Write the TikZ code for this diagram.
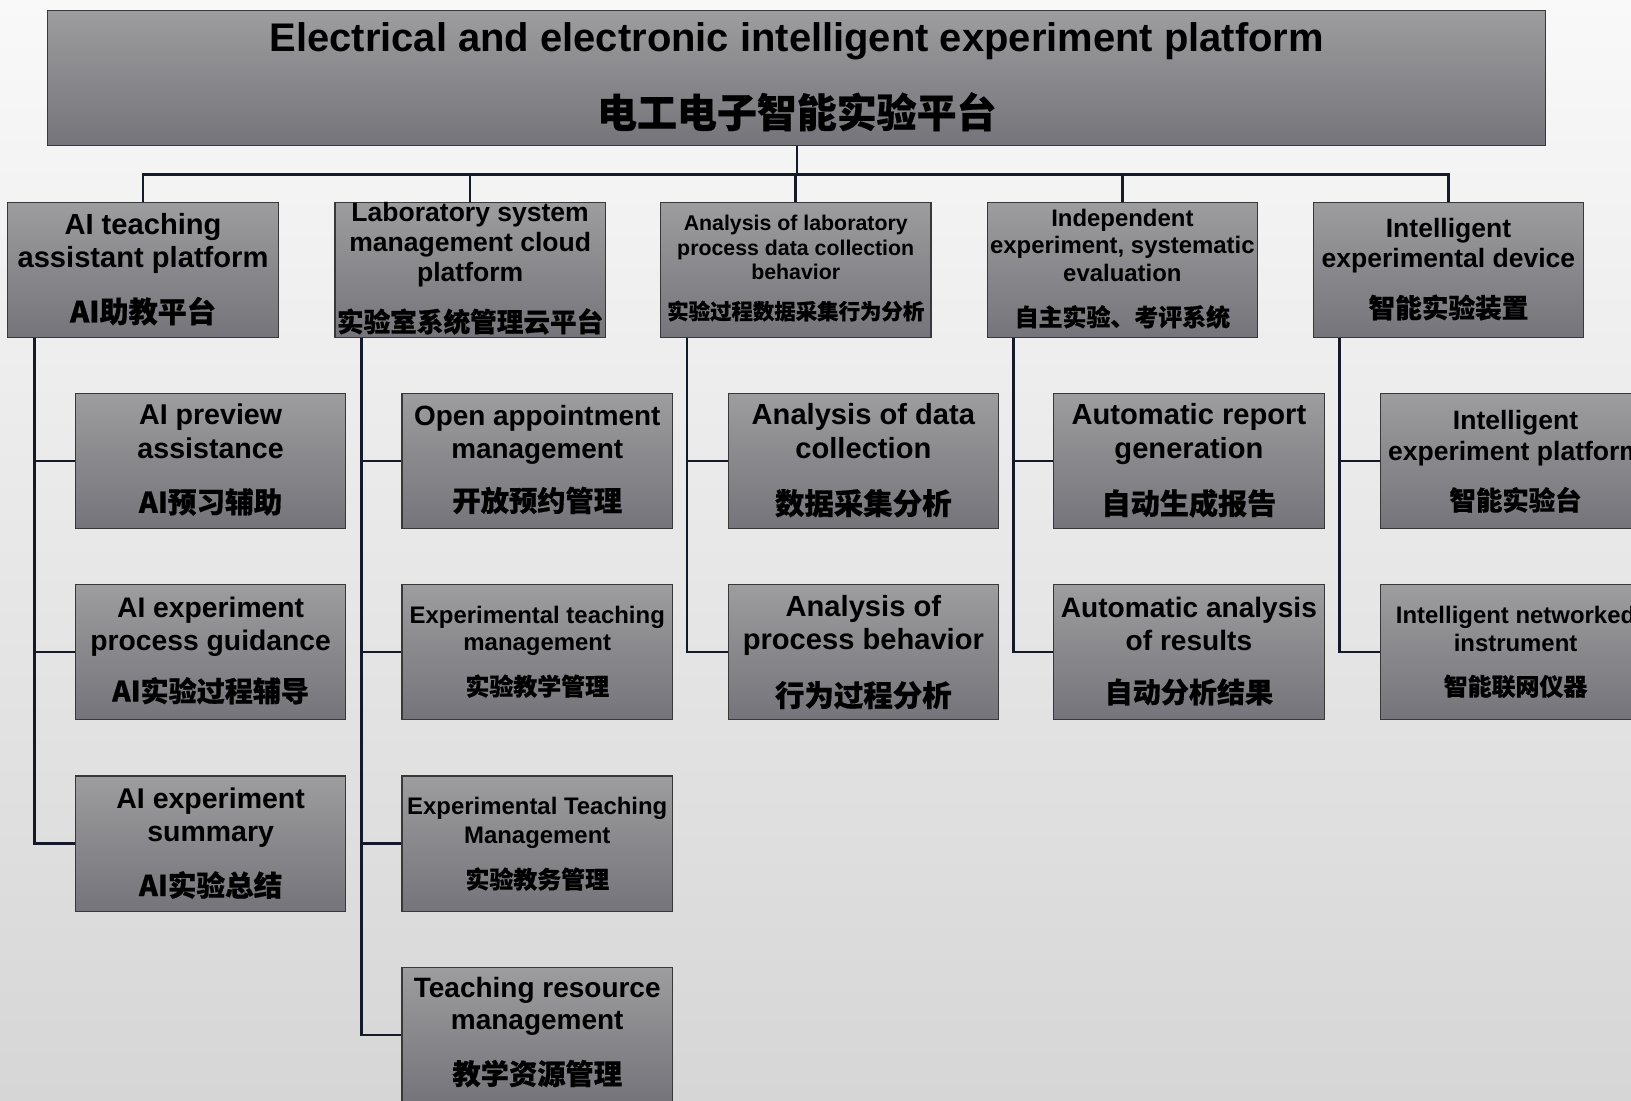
\documentclass[tikz,border=0pt]{standalone}
\usepackage{fontspec}
\setmainfont{Liberation Sans}
\newfontfamily\cjk{Noto Sans CJK SC}[BoldFeatures={FakeBold=0.5}]
\usetikzlibrary{calc}

\definecolor{bgtop}{HTML}{F9F9F9}
\definecolor{bgbot}{HTML}{D6D6D6}
\definecolor{boxtop}{HTML}{9D9D9F}
\definecolor{boxbot}{HTML}{74747A}
\definecolor{boxline}{HTML}{383838}
\definecolor{linkcol}{HTML}{141A2A}

% one centred text line; #1 = distance from the previous baseline (or the box top)
\newcommand\enrow[3]{\hbox to 0pt{\hss\vrule height #1pt depth 0pt width 0pt\fontsize{#2}{#2}\selectfont\bfseries\smash{#3}\hss}}
\newcommand\cnrow[3]{\hbox to 0pt{\hss\vrule height #1pt depth 0pt width 0pt\cjk\fontsize{#2}{#2}\selectfont\bfseries\smash{#3}\hss}}
% stack of lines, moved down a little without changing its total height
\newcommand\boxtext[1]{\vbox{\offinterlineskip\vskip1.5pt#1\vskip-1.5pt}}

\tikzset{
  box/.style={draw=boxline, line width=1.1pt, top color=boxtop, bottom color=boxbot,
    minimum width=260, minimum height=130, inner sep=0pt, text=black},
  link/.style={draw=linkcol, line width=2.4pt},
}

\begin{document}
\begin{tikzpicture}[x=1pt, y=-1pt]
\useasboundingbox (0,0) rectangle (1568,1058);
\clip (0,0) rectangle (1568,1058);
\fill[top color=bgtop, bottom color=bgbot] (0,0) rectangle (1568,1058);

% root
\node[box, minimum width=1440] (T) at (766,75) {\boxtext{%
  \enrow{38}{38.4}{Electrical and electronic intelligent experiment platform}%
  \cnrow{73}{38.4}{电工电子智能实验平台}\vskip19pt}};

% first level
\node[box] (L1) at (137.5,259.5) {\boxtext{%
  \enrow{29}{28}{AI teaching}\enrow{32}{28}{assistant platform}%
  \cnrow{53}{28}{AI助教平台}\vskip16pt}};
\node[box] (L2) at (452,259.5) {\boxtext{%
  \enrow{16.5}{25.5}{Laboratory system}\enrow{29}{25.5}{management cloud}\enrow{29}{25.5}{platform}%
  \cnrow{48.5}{25.6}{实验室系统管理云平台}\vskip7pt}};
\node[box] (L3) at (765,259.5) {\boxtext{%
  \enrow{26}{20.5}{Analysis of laboratory}\enrow{23.5}{20.5}{process data collection}\enrow{23.5}{20.5}{behavior}%
  \cnrow{38}{20.6}{实验过程数据采集行为分析}\vskip19pt}};
\node[box] (L4) at (1079,259.5) {\boxtext{%
  \enrow{21.5}{23}{Independent}\enrow{26.5}{23}{experiment, systematic}\enrow{26.5}{23}{evaluation}%
  \cnrow{43}{23}{自主实验、考评系统}\vskip12.5pt}};
\node[box] (L5) at (1392.5,259.5) {\boxtext{%
  \enrow{32}{25.5}{Intelligent}\enrow{29}{25.5}{experimental device}%
  \cnrow{48.5}{25.6}{智能实验装置}\vskip20.5pt}};

% second level: AI teaching assistant platform
\node[box] (A1) at (202.5,443) {\boxtext{%
  \enrow{29}{27.5}{AI preview}\enrow{32}{27.5}{assistance}%
  \cnrow{52.5}{27.5}{AI预习辅助}\vskip16.5pt}};
\node[box] (A2) at (202.5,627) {\boxtext{%
  \enrow{30.5}{27.2}{AI experiment}\enrow{31}{27.2}{process guidance}%
  \cnrow{49.5}{27}{AI实验过程辅导}\vskip19pt}};
\node[box] (A3) at (202.5,811) {\boxtext{%
  \enrow{29.5}{27.4}{AI experiment}\enrow{32}{27.4}{summary}%
  \cnrow{52.5}{27.5}{AI实验总结}\vskip16pt}};

% second level: laboratory management cloud platform
\node[box] (B1) at (516.5,443) {\boxtext{%
  \enrow{29.5}{26.8}{Open appointment}\enrow{31.5}{26.8}{management}%
  \cnrow{51}{27.2}{开放预约管理}\vskip18pt}};
\node[box] (B2) at (516.5,627) {\boxtext{%
  \enrow{35.5}{23}{Experimental teaching}\enrow{26}{23}{management}%
  \cnrow{43.5}{23}{实验教学管理}\vskip25pt}};
\node[box] (B3) at (516.5,811) {\boxtext{%
  \enrow{36}{23}{Experimental Teaching}\enrow{27}{23}{Management}%
  \cnrow{43.5}{23}{实验教务管理}\vskip23.5pt}};
\node[box] (B4) at (516.5,995) {\boxtext{%
  \enrow{27}{26.9}{Teaching resource}\enrow{31.5}{26.9}{management}%
  \cnrow{52.5}{27.2}{教学资源管理}\vskip19pt}};

% second level: data collection
\node[box] (C1) at (830,443) {\boxtext{%
  \enrow{29}{28}{Analysis of data}\enrow{32}{28}{collection}%
  \cnrow{54}{28.3}{数据采集分析}\vskip15pt}};
\node[box] (C2) at (830,627) {\boxtext{%
  \enrow{29.5}{28}{Analysis of}\enrow{31}{28}{process behavior}%
  \cnrow{55}{28.3}{行为过程分析}\vskip14.5pt}};

% second level: evaluation
\node[box] (D1) at (1143,443) {\boxtext{%
  \enrow{29}{28}{Automatic report}\enrow{32}{28}{generation}%
  \cnrow{54}{28}{自动生成报告}\vskip15pt}};
\node[box] (D2) at (1143,627) {\boxtext{%
  \enrow{30.5}{27}{Automatic analysis}\enrow{31}{27}{of results}%
  \cnrow{50.5}{27}{自动分析结果}\vskip18pt}};

% second level: devices
\node[box] (E1) at (1457,443) {\boxtext{%
  \enrow{33}{25.5}{Intelligent}\enrow{30}{25.5}{experiment platform}%
  \cnrow{48}{25.4}{智能实验台}\vskip19pt}};
\node[box] (E2) at (1457,627) {\boxtext{%
  \enrow{36}{23}{Intelligent networked}\enrow{27}{23}{instrument}%
  \cnrow{42}{23}{智能联网仪器}\vskip25pt}};

% connectors
\coordinate (bus) at ($(T.south)+(0,27)$);
\draw[link] (T.south) -- (bus);
\foreach \n in {L1,L2,L3,L4,L5} \draw[link] (bus) -| (\n.north);
\foreach \p/\c in {L1/A1,L1/A2,L1/A3,L2/B1,L2/B2,L2/B3,L2/B4,L3/C1,L3/C2,L4/D1,L4/D2,L5/E1,L5/E2}
  \draw[link] ([xshift=26]\p.south west) |- (\c.west);
\end{tikzpicture}
\end{document}
